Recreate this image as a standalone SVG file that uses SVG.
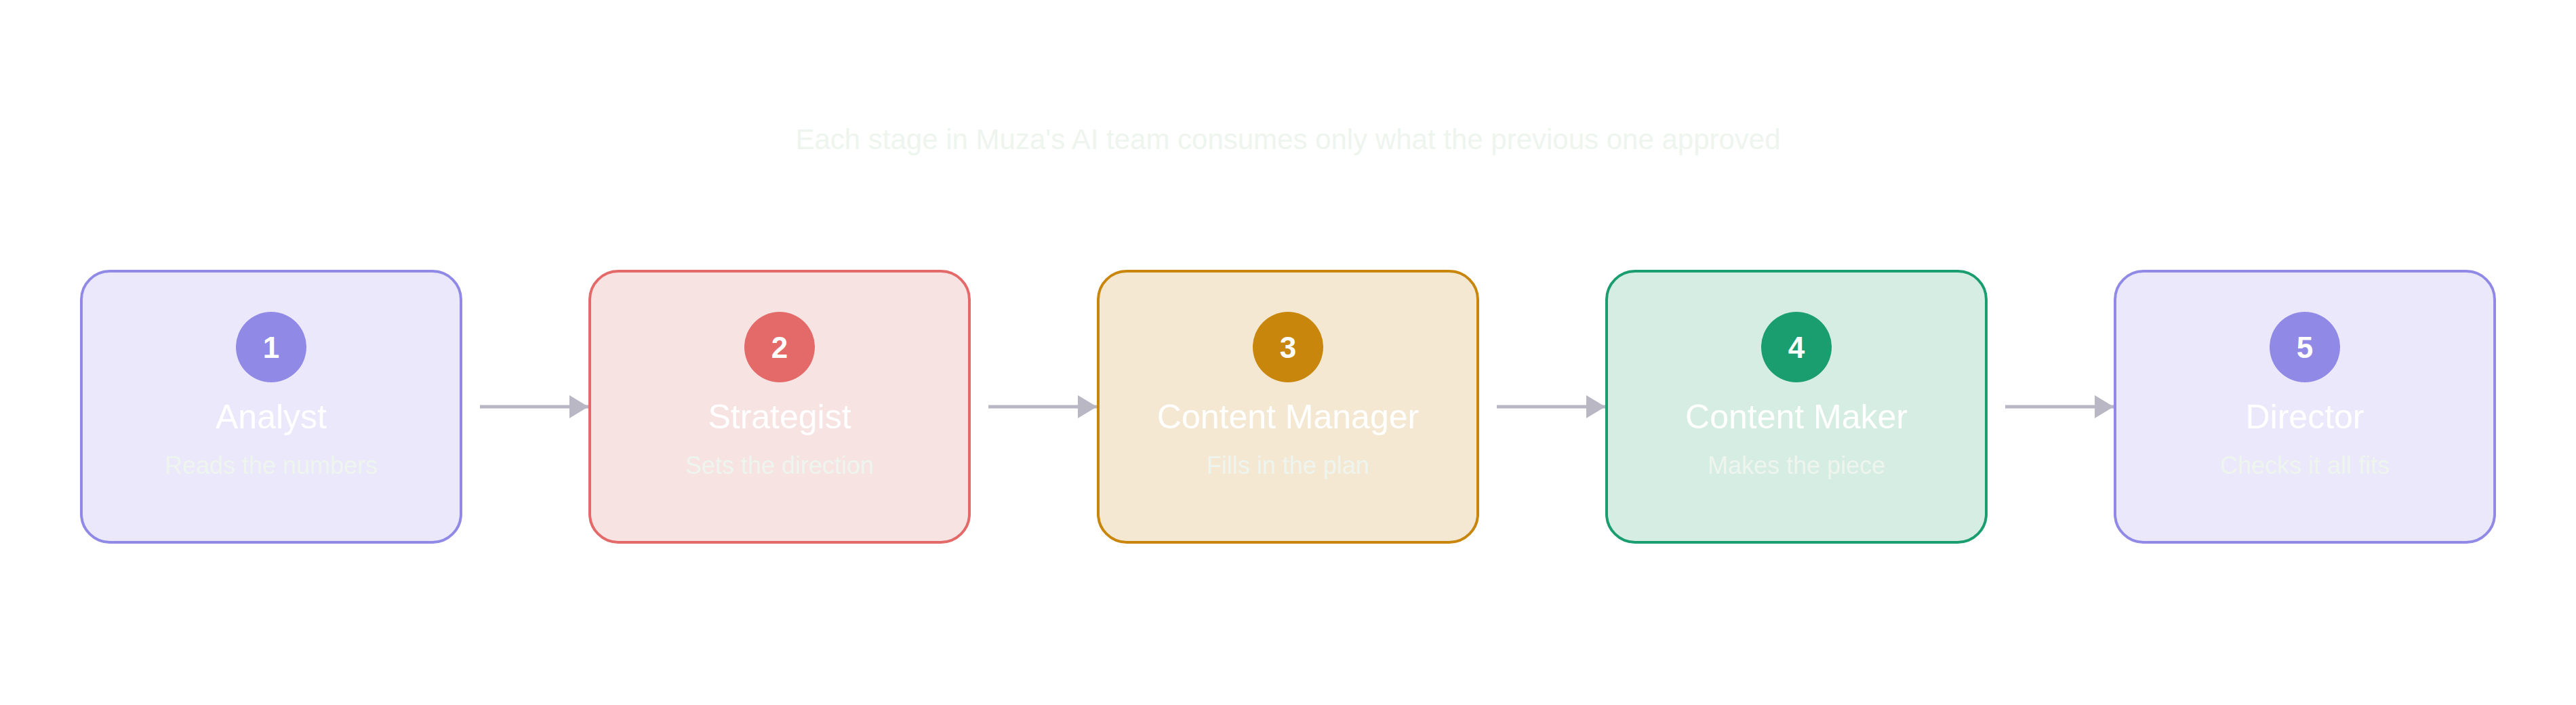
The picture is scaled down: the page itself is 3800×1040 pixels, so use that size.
<svg xmlns="http://www.w3.org/2000/svg" width="3800" height="1040" viewBox="0 0 3800 1040">
<defs>
<style>
text{font-family:"Liberation Sans",Arial,sans-serif;text-anchor:middle}
.title{font-size:82px;fill:#ffffff}
.sub{font-size:42px;fill:#eef5ee}
.name{font-size:50px;fill:#ffffff}
.desc{font-size:36px;fill:#eef5ee}
.num{font-size:44px;font-weight:bold;fill:#ffffff}
.box{stroke-width:4}
.edge{stroke:#b8b7c3;stroke-width:5;fill:none}
</style>
<marker id="ah" markerWidth="28" markerHeight="34" refX="28" refY="17" orient="auto" markerUnits="userSpaceOnUse">
<path d="M0,0 L28,17 L0,34 Z" fill="#b8b7c3"/>
</marker>
</defs>
<rect width="3800" height="1040" fill="#ffffff"/>
<g id="header">
<text class="title" x="1900" y="140">Five roles, one continuous handoff</text>
<text class="sub" x="1900" y="220">Each stage in Muza's AI team consumes only what the previous one approved</text>
</g>
<g id="connectors">
<line class="edge" x1="708" y1="600" x2="868" y2="600" marker-end="url(#ah)"/>
<line class="edge" x1="1458" y1="600" x2="1618" y2="600" marker-end="url(#ah)"/>
<line class="edge" x1="2208" y1="600" x2="2368" y2="600" marker-end="url(#ah)"/>
<line class="edge" x1="2958" y1="600" x2="3118" y2="600" marker-end="url(#ah)"/>
</g>
<g id="node1">
<rect class="box" x="120" y="400" width="560" height="400" rx="42" fill="#ebe8fb" stroke="#9189e6"/>
<circle cx="400" cy="512" r="52" fill="#9189e6"/>
<text class="num" x="400" y="528">1</text>
<text class="name" x="400" y="632">Analyst</text>
<text class="desc" x="400" y="699">Reads the numbers</text>
</g>
<g id="node2">
<rect class="box" x="870" y="400" width="560" height="400" rx="42" fill="#f8e3e3" stroke="#e46a6a"/>
<circle cx="1150" cy="512" r="52" fill="#e46a6a"/>
<text class="num" x="1150" y="528">2</text>
<text class="name" x="1150" y="632">Strategist</text>
<text class="desc" x="1150" y="699">Sets the direction</text>
</g>
<g id="node3">
<rect class="box" x="1620" y="400" width="560" height="400" rx="42" fill="#f5e8d3" stroke="#c8860c"/>
<circle cx="1900" cy="512" r="52" fill="#c8860c"/>
<text class="num" x="1900" y="528">3</text>
<text class="name" x="1900" y="632">Content Manager</text>
<text class="desc" x="1900" y="699">Fills in the plan</text>
</g>
<g id="node4">
<rect class="box" x="2370" y="400" width="560" height="400" rx="42" fill="#d6ede3" stroke="#1b9e6f"/>
<circle cx="2650" cy="512" r="52" fill="#1b9e6f"/>
<text class="num" x="2650" y="528">4</text>
<text class="name" x="2650" y="632">Content Maker</text>
<text class="desc" x="2650" y="699">Makes the piece</text>
</g>
<g id="node5">
<rect class="box" x="3120" y="400" width="560" height="400" rx="42" fill="#ebe8fb" stroke="#9189e6"/>
<circle cx="3400" cy="512" r="52" fill="#9189e6"/>
<text class="num" x="3400" y="528">5</text>
<text class="name" x="3400" y="632">Director</text>
<text class="desc" x="3400" y="699">Checks it all fits</text>
</g>
</svg>
